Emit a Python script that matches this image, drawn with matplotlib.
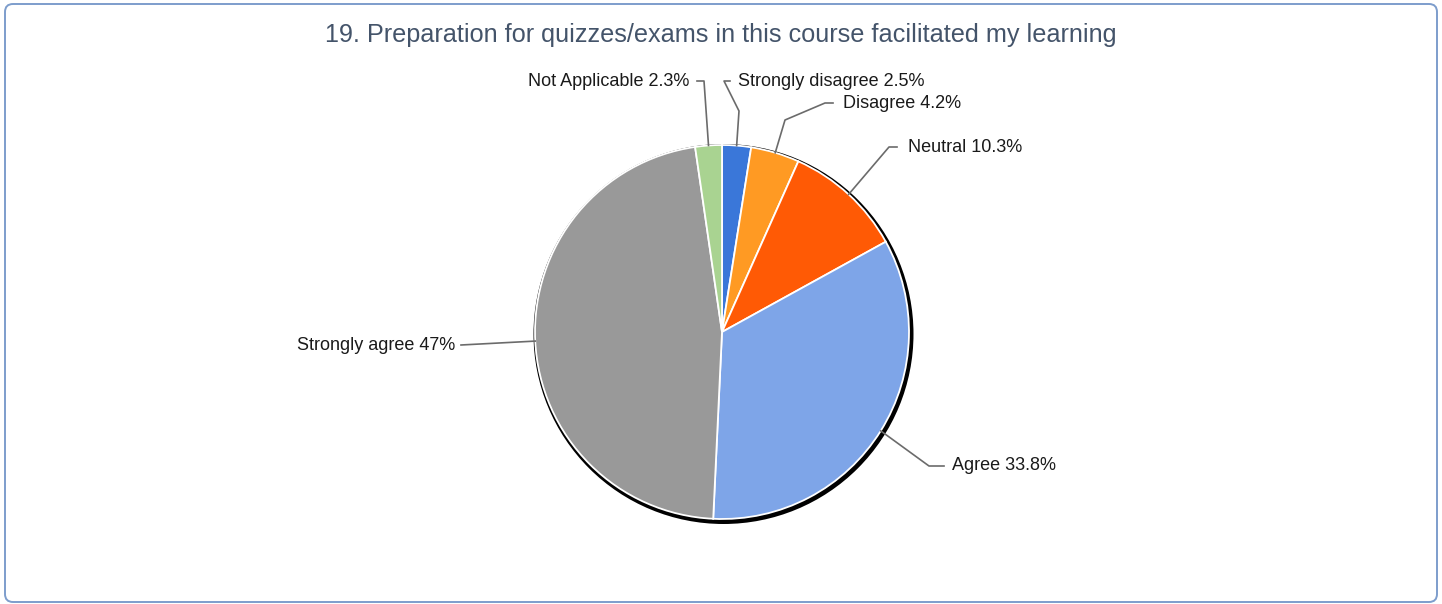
import matplotlib.pyplot as plt
import numpy as np
from matplotlib.patches import FancyBboxPatch, Circle

plt.rcParams['font.family'] = ['Liberation Sans', 'DejaVu Sans']

TITLE = '19. Preparation for quizzes/exams in this course facilitated my learning'
labels = ['Strongly disagree', 'Disagree', 'Neutral', 'Agree', 'Strongly agree', 'Not Applicable']
values = [2.5, 4.2, 10.3, 33.8, 47, 2.3]
pct_text = ['2.5%', '4.2%', '10.3%', '33.8%', '47%', '2.3%']
colors = ['#3a77d9', '#ff9a23', '#ff5a05', '#7ea5e8', '#999999', '#a9d391']

W, H = 1442, 604
CX, CY, R = 722, H - 332, 187

# label layout in pixel coords (x, y from top): elbow points, text pos, alignment
layout = {
    'Strongly disagree': ([(739, 111), (724, 81), (730, 81)], (738, 81), 'left'),
    'Disagree': ([(785, 120), (825, 103), (833, 103)], (843, 103), 'left'),
    'Neutral': ([(889, 147), (897, 147)], (908, 147), 'left'),
    'Agree': ([(929, 466), (944, 466)], (952, 466), 'left'),
    'Strongly agree': ([(461, 345)], (455, 346), 'right'),
    'Not Applicable': ([(704, 81), (697, 81)], (689, 81), 'right'),
}

fig = plt.figure(figsize=(W / 100, H / 100), dpi=100)
ax = fig.add_axes([0, 0, 1, 1])

frame = FancyBboxPatch((5, 2), W - 10, H - 6, boxstyle='round,pad=0,rounding_size=8',
                       fc='white', ec='#7d9dcc', lw=1.4, zorder=0)
ax.add_patch(frame)

ax.text(W / 2, H - 35, TITLE, ha='center', va='center', fontsize=18.2, color='#44546a')

# shadow
ax.add_patch(Circle((CX + 1.5, CY - 2), R + 3, fc='black', ec='none', zorder=1))

wedges, _ = ax.pie(values, colors=colors, startangle=90, counterclock=False,
                   center=(CX, CY), radius=R, frame=True,
                   wedgeprops=dict(ec='white', lw=1.3, zorder=2))
ax.set_xlim(0, W)
ax.set_ylim(0, H)
ax.set_aspect('auto')
ax.axis('off')

for w, lab, pt in zip(wedges, labels, pct_text):
    mid = np.deg2rad((w.theta1 + w.theta2) / 2)
    ax_x = CX + R * np.cos(mid)
    ax_y = CY + R * np.sin(mid)
    pts, (tx, ty), ha = layout[lab]
    xs = [ax_x] + [p[0] for p in pts]
    ys = [ax_y] + [H - p[1] for p in pts]
    ax.plot(xs, ys, color='#6b6b6b', lw=1.2, zorder=3)
    ax.text(tx, H - ty, f'{lab} {pt}', ha=ha, va='center', fontsize=13, color='#1a1a1a')

fig.savefig('out.png', dpi=100)
